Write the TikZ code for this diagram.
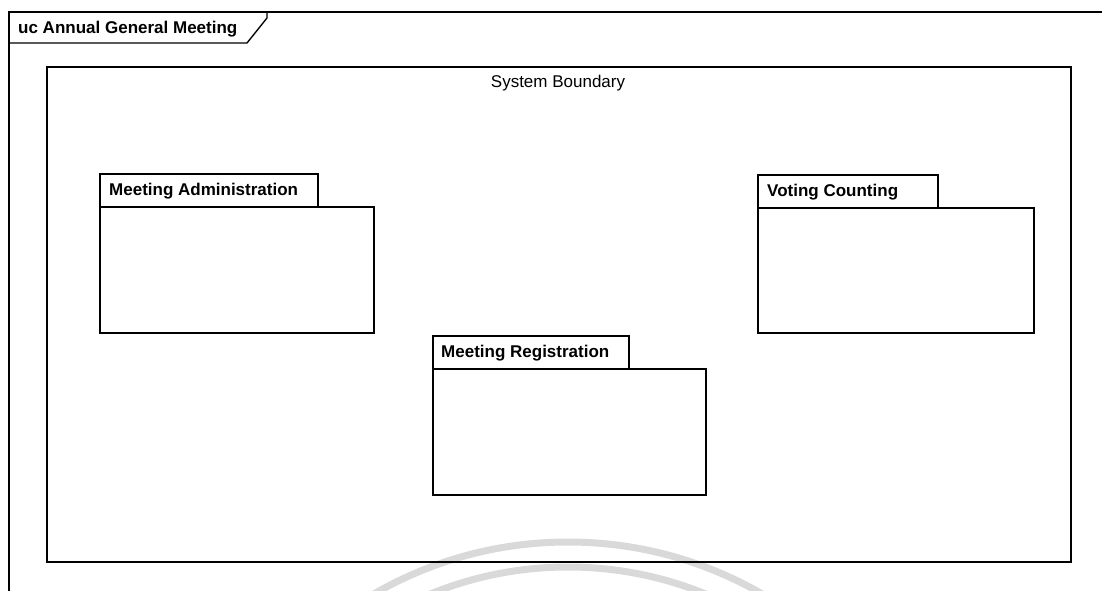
\documentclass[tikz,border=0pt]{standalone}
\usepackage{fontspec}
\setmainfont{Liberation Sans}
\begin{document}
\begin{tikzpicture}[x=1pt,y=-1pt,
  frameline/.style={draw=black,line width=1.4pt},
  pkgbox/.style={draw=black,line width=1.8pt,fill=white,rectangle,inner sep=0pt,anchor=north west},
  titletext/.style={font=\fontsize{17}{20}\selectfont\bfseries,inner sep=0pt,anchor=base west},
  plaintext/.style={font=\fontsize{17}{20}\selectfont,inner sep=0pt,anchor=base},
  stamp/.style={draw=black!15,line width=7pt}]
\useasboundingbox (0,0) rectangle (1102,591);

% faint circular stamp at the bottom
\begin{scope}
  \clip (0,0) rectangle (1102,591);
  \coordinate (stampC) at (568,930);
  \draw[stamp] (stampC) circle[radius=388];
  \draw[stamp] (stampC) circle[radius=363];
\end{scope}

% diagram frame with its name tab
\coordinate (frameTL) at (9,12);
\draw[frameline] (1102,12) -- (frameTL) -- (9,591);
\draw[frameline] (9,43) -- (247,43) -- (267,18) -- (267,12);
\node[titletext] (frameName) at (18,34) {uc Annual General Meeting};

% system boundary
\node[draw=black,line width=1.8pt,rectangle,inner sep=0pt,anchor=north west,
      minimum width=1024pt,minimum height=495pt] (boundary) at (46,66) {};
\node[plaintext] (boundaryName) at (558,88) {System Boundary};

% package: Meeting Administration
\node[pkgbox,minimum width=218pt,minimum height=33pt] (adminTab) at (99,173) {};
\node[pkgbox,minimum width=274pt,minimum height=126pt] (adminBody) at (99,206) {};
\node[titletext] (adminName) at (109,195) {Meeting Administration};

% package: Meeting Registration
\node[pkgbox,minimum width=196pt,minimum height=33pt] (regTab) at (432,335) {};
\node[pkgbox,minimum width=273pt,minimum height=126pt] (regBody) at (432,368) {};
\node[titletext] (regName) at (441,357) {Meeting Registration};

% package: Voting Counting
\node[pkgbox,minimum width=180pt,minimum height=33pt] (voteTab) at (757,174) {};
\node[pkgbox,minimum width=276pt,minimum height=125pt] (voteBody) at (757,207) {};
\node[titletext] (voteName) at (767,196) {Voting Counting};
\end{tikzpicture}
\end{document}
